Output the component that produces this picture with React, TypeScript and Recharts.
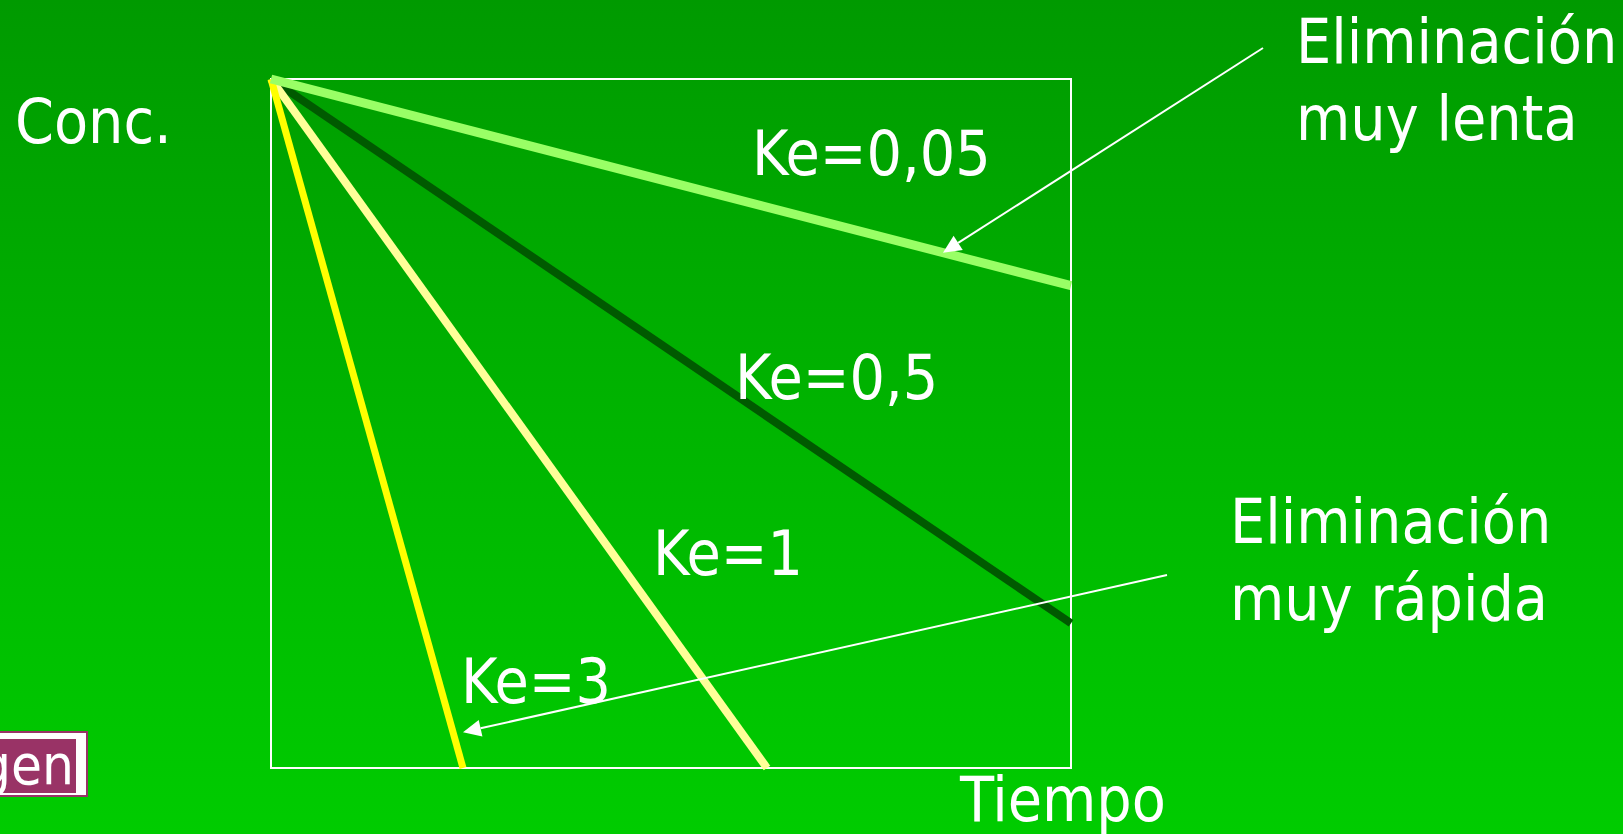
import { LineChart, Line, XAxis, YAxis, ReferenceArea, ReferenceLine } from "recharts";

// semilog concentration vs time, one straight line per elimination constant
const KE_005 = [{ t: 0, c: 10 }, { t: 10, c: 7.0 }];
const KE_05 = [{ t: 0, c: 10 }, { t: 10, c: 2.1 }];
const KE_1 = [{ t: 0, c: 10 }, { t: 6.2, c: 0 }];
const KE_3 = [{ t: 0, c: 10 }, { t: 2.4, c: 0 }];

const ARROW_SLOW = [{ x: 12.4, y: 10.45 }, { x: 8.4, y: 7.48 }];
const ARROW_FAST = [{ x: 11.2, y: 2.8 }, { x: 2.4, y: 0.52 }];

const W = 1623;
const H = 834;
const FONT = "'DejaVu Sans Condensed', 'DejaVu Sans', sans-serif";

function Arrow(p: any) {
  const { x1, y1, x2, y2 } = p;
  const dx = x2 - x1;
  const dy = y2 - y1;
  const len = Math.hypot(dx, dy) || 1;
  const ux = dx / len;
  const uy = dy / len;
  const head = 18;
  const half = 8.5;
  const bx = x2 - ux * head;
  const by = y2 - uy * head;
  const pts = `${x2},${y2} ${bx - uy * half},${by + ux * half} ${bx + uy * half},${by - ux * half}`;
  return (
    <g>
      <line x1={x1} y1={y1} x2={bx} y2={by} stroke="#fff" strokeWidth={2} />
      <polygon points={pts} fill="#fff" />
    </g>
  );
}

const txt = { fill: "#fff", fontFamily: FONT, fontStretch: "condensed", fontSize: 62 } as const;

export default function App() {
  return (
    <div
      style={{
        position: "absolute",
        left: 0,
        top: 0,
        width: W,
        height: H,
        overflow: "hidden",
        background: "linear-gradient(180deg, #009a00 0%, #00b400 50%, #00cc00 100%)",
      }}
    >
      <LineChart width={W} height={H} margin={{ top: 79, right: 552, bottom: 66, left: 271 }}>
        <XAxis type="number" dataKey="t" domain={[0, 10]} hide />
        <YAxis type="number" dataKey="c" domain={[0, 10]} hide />
        <ReferenceArea x1={0} x2={10} y1={0} y2={10} fill="none" stroke="#ffffff" strokeWidth={2} fillOpacity={0} />
        <Line data={KE_05} dataKey="c" stroke="#005a00" strokeWidth={8} dot={false} isAnimationActive={false} />
        <Line data={KE_1} dataKey="c" stroke="#ffff99" strokeWidth={8} dot={false} isAnimationActive={false} />
        <Line data={KE_3} dataKey="c" stroke="#ffff00" strokeWidth={7} dot={false} isAnimationActive={false} />
        <Line data={KE_005} dataKey="c" stroke="#99ff66" strokeWidth={9} dot={false} isAnimationActive={false} />
        <ReferenceLine segment={ARROW_SLOW} ifOverflow="visible" shape={Arrow} />
        <ReferenceLine segment={ARROW_FAST} ifOverflow="visible" shape={Arrow} />
      </LineChart>
      <svg width={W} height={H} style={{ position: "absolute", left: 0, top: 0, pointerEvents: "none" }}>
        <text x={15} y={143} {...txt}>Conc.</text>
        <text x={1296} y={63} {...txt}>Eliminación</text>
        <text x={1296} y={140} {...txt}>muy lenta</text>
        <text x={1230} y={543} {...txt}>Eliminación</text>
        <text x={1230} y={620} {...txt}>muy rápida</text>
        <text x={752} y={175} {...txt}>Ke=0,05</text>
        <text x={735} y={399} {...txt}>Ke=0,5</text>
        <text x={653} y={575} {...txt}>Ke=1</text>
        <text x={461} y={703} {...txt}>Ke=3</text>
        <text x={960} y={821} {...txt}>Tiempo</text>
        <rect x={-4} y={731} width={92} height={66} fill="#993366" />
        <rect x={-4} y={733} width={90} height={62} fill="#ffffff" />
        <rect x={-4} y={739} width={80} height={54} fill="#993366" />
        <clipPath id="btn">
          <rect x={-4} y={739} width={80} height={54} />
        </clipPath>
        <text x={74} y={784} textAnchor="end" clipPath="url(#btn)" {...txt} fontSize={56}>gen</text>
      </svg>
    </div>
  );
}
